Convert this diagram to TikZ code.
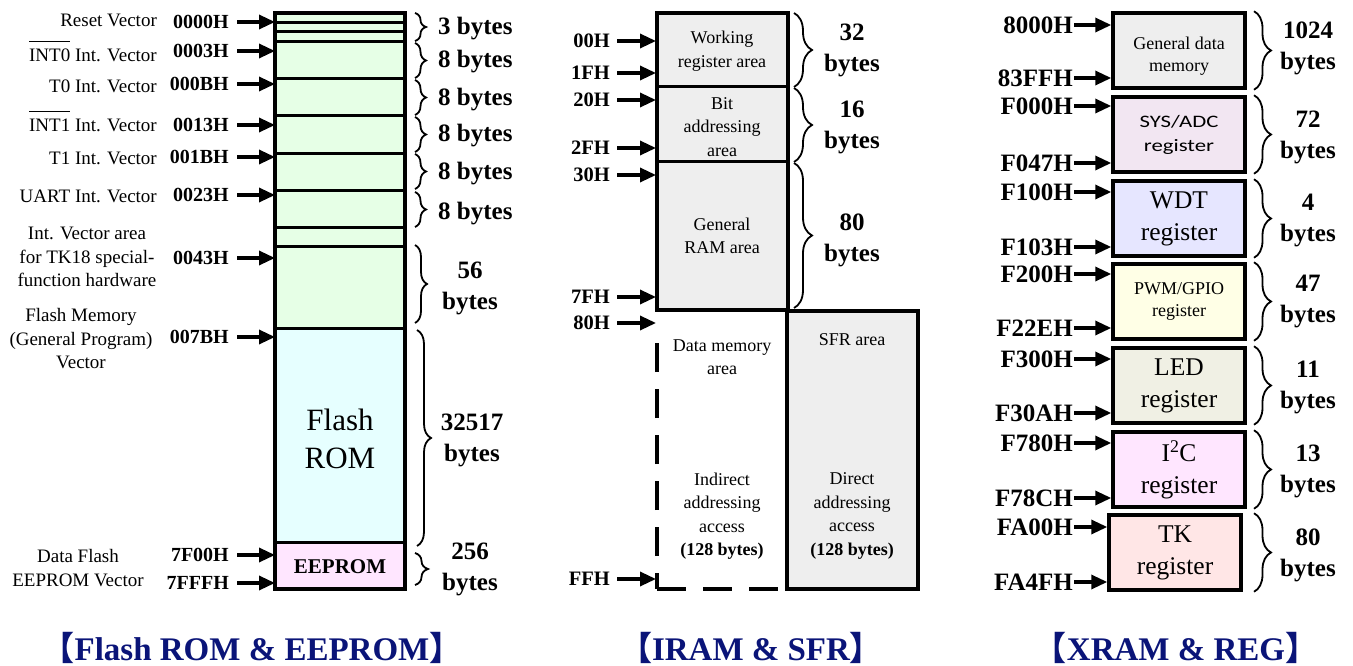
\documentclass[tikz,border=0pt]{standalone}
\usepackage{fontspec}
\setmainfont{Liberation Serif}
\newfontfamily\cjkfont{Noto Sans CJK SC}
\newfontfamily\sysfont{Carlito}[FakeStretch=1.3]
\usetikzlibrary{arrows.meta,decorations.pathreplacing}
\definecolor{fgreen}{RGB}{230,255,230}
\definecolor{fcyan}{RGB}{230,255,255}
\definecolor{fpink}{RGB}{255,230,255}
\definecolor{fgray}{RGB}{238,238,238}
\definecolor{fsys}{RGB}{242,230,242}
\definecolor{fwdt}{RGB}{230,230,255}
\definecolor{fpwm}{RGB}{255,255,230}
\definecolor{fled}{RGB}{240,240,228}
\definecolor{ftk}{RGB}{255,230,230}
\definecolor{titleblue}{RGB}{10,20,120}
\newcommand{\ovbar}[1]{\setbox0\hbox{#1}\rlap{\raisebox{1.0em}{\rule{\wd0}{1.3pt}}}\box0\relax}
\tikzset{
 vlab/.style={font=\fontsize{19}{23.5}\selectfont, inner sep=0pt, align=center},
 laddr/.style={font=\bfseries\fontsize{20}{24}\selectfont, inner sep=0pt, anchor=east},
 maddr/.style={font=\bfseries\fontsize{20.5}{24}\selectfont, inner sep=0pt, anchor=east},
 raddr/.style={font=\bfseries\fontsize{25}{30}\selectfont, inner sep=0pt, anchor=east},
 arr/.style={line width=3.3pt, -{Triangle[length=16pt,width=14pt]}},
 brc/.style={decorate, decoration={brace, amplitude=#1}, line width=1.8pt},
 bytes/.style={font=\bfseries\fontsize{25}{31}\selectfont, inner sep=0pt, align=center},
 mtxt/.style={font=\fontsize{18}{23.5}\selectfont, inner sep=0pt, align=center},
 rbox/.style={draw, line width=3.5pt, minimum width=132pt, minimum height=75pt, inner sep=0pt, align=center},
 rsmall/.style={font=\fontsize{18}{22}\selectfont},
 rlarge/.style={font=\fontsize{25.5}{32}\selectfont},
 ttl/.style={font=\bfseries\fontsize{33}{38}\selectfont, text=titleblue, inner sep=0pt},
}
\begin{document}
\begin{tikzpicture}[x=1pt,y=-1pt]
\useasboundingbox (0,0) rectangle (1353,666);
% ================= left: Flash ROM & EEPROM =================
\fill[fgreen] (275,13) rectangle (405,328);
\fill[fcyan] (275,328) rectangle (405,543);
\fill[fpink] (275,543) rectangle (405,589);
\foreach \yy in {22.7,31.7,41.7,78.3,116,153.3,191,227.3,246.7,328.3,542.7}
  \draw[line width=3pt] (275,\yy) -- (405,\yy);
\draw[line width=3.5pt] (275,13) rectangle (405,589);
\node[font=\fontsize{31}{38}\selectfont, align=center, inner sep=0pt] (flashrom) at (340,439) {Flash\\ROM};
\node[font=\bfseries\fontsize{21}{25}\selectfont, inner sep=0pt] (eeprom) at (340,567) {EEPROM};

\node[vlab, anchor=base east] (lreset) at (157,26.5) {Reset Vector};
\node[vlab, anchor=base east] (lint0) at (157,61.5) {\ovbar{INT0} Int. Vector};
\node[vlab, anchor=base east] (lt0) at (157,92.5) {T0 Int. Vector};
\node[vlab, anchor=base east] (lint1) at (157,131.5) {\ovbar{INT1} Int. Vector};
\node[vlab, anchor=base east] (lt1) at (157,164.5) {T1 Int. Vector};
\node[vlab, anchor=base east] (luart) at (157,202.5) {UART Int. Vector};
\node[vlab] (ltk) at (87,257) {Int. Vector area\\for TK18 special-\\function hardware};
\node[vlab] (lflash) at (81,339) {Flash Memory\\(General Program)\\Vector};
\node[vlab] (ldata) at (78,568) {Data Flash\\EEPROM Vector};

\coordinate (Lw) at (275,0);
\foreach \n/\t/\yy in {a0/0000H/22, a3/0003H/51, aB/000BH/84, a13/0013H/125, a1B/001BH/157, a23/0023H/195, a43/0043H/258, a7B/007BH/337, aF00/7F00H/555, aFFF/7FFFH/583}{
  \node[laddr] (\n) at (229,\yy) {\t};
  \draw[arr] ([xshift=8pt]\n.east) -- (\n.east -| Lw);
}

\draw[brc=11] (415,13) -- (415,41);
\draw[brc=11] (415,43) -- (415,78);
\draw[brc=11] (415,80) -- (415,115);
\draw[brc=11] (415,117) -- (415,152);
\draw[brc=11] (415,154) -- (415,189);
\draw[brc=11] (415,192) -- (415,227);
\draw[brc=12] (415,245) -- (415,323);
\draw[brc=14] (417,330) -- (417,546);
\draw[brc=13] (415,553) -- (415,585);
\node[bytes, anchor=west] (b3) at (438,29) {3 bytes};
\foreach \n/\yy in {b8a/62, b8b/100, b8c/136, b8d/174, b8e/214}
  \node[bytes, anchor=west] (\n) at (438,\yy) {8 bytes};
\node[bytes] (b56) at (470,288) {56\\bytes};
\node[bytes] (b32517) at (472,440) {32517\\bytes};
\node[bytes] (b256) at (470,569) {256\\bytes};

% ================= middle: IRAM & SFR =================
\fill[fgray] (657,13) rectangle (788,310);
\draw[line width=3pt] (657,87) -- (788,87);
\draw[line width=3pt] (657,162) -- (788,162);
\draw[line width=3.5pt] (657,13) rectangle (788,310);
\draw[line width=3.5pt, fill=fgray] (787,311) rectangle (918,589);
\draw[line width=3.5pt, dash pattern=on 29pt off 17pt, dash phase=13pt] (657,589) -- (657,331);
\draw[line width=3.5pt, dash pattern=on 29pt off 17pt] (657,589) -- (787,589);

\node[mtxt] (wr) at (722,51) {Working\\register area};
\node[mtxt] (bit) at (722,127) {Bit\\addressing\\area};
\node[mtxt] (gram) at (722,236) {General\\RAM area};
\node[mtxt] (dma) at (722,357) {Data memory\\area};
\node[mtxt] (ind) at (722,516) {Indirect\\addressing\\access\\\textbf{(128 bytes)}};
\node[mtxt] (sfr) at (852,340) {SFR area};
\node[mtxt] (dir) at (852,516) {Direct\\addressing\\access\\\textbf{(128 bytes)}};

\coordinate (Mw) at (656,0);
\foreach \n/\t/\yy in {m00/00H/41, m1F/1FH/73, m20/20H/100, m2F/2FH/148, m30/30H/175, m7F/7FH/297, m80/80H/323, mFF/FFH/579}{
  \node[maddr] (\n) at (610,\yy) {\t};
  \draw[arr] ([xshift=7pt]\n.east) -- (\n.east -| Mw);
}
\draw[brc=18] (794,13) -- (794,87);
\draw[brc=18] (794,88) -- (794,162);
\draw[brc=18] (794,163) -- (794,308);
\node[bytes] (m32) at (852,50) {32\\bytes};
\node[bytes] (m16) at (852,127) {16\\bytes};
\node[bytes] (m80b) at (852,240) {80\\bytes};

% ================= right: XRAM & REG =================
\node[rbox, fill=fgray] (gdm) at (1179,50.5) {};
\node[rsmall, inner sep=0pt, align=center] (gdmt) at (1179,56) {General data\\memory};
\node[rbox, fill=fsys, font=\sysfont\fontsize{17.5}{24}\selectfont] (sys) at (1179,134.5) {SYS/ADC\\register};
\node[rbox, fill=fwdt, rlarge] (wdt) at (1179,218.5) {WDT\\register};
\node[rbox, fill=fpwm, rsmall] (pwm) at (1179,301.5) {PWM/GPIO\\register};
\node[rbox, fill=fled, rlarge] (led) at (1179,385.5) {LED\\register};
\node[rbox, fill=fpink, rlarge] (i2c) at (1179,469.5) {I\textsuperscript{2}C\\register};
\node[rbox, fill=ftk, rlarge] (tk) at (1175,552.5) {TK\\register};

\foreach \n/\t/\yy/\b in {r1/8000H/25/gdm, r2/83FFH/78/gdm, r3/F000H/106/sys, r4/F047H/163/sys, r5/F100H/192/wdt, r6/F103H/247/wdt, r7/F200H/274/pwm, r8/F22EH/328/pwm, r9/F300H/359/led, r10/F30AH/413/led, r11/F780H/443/i2c, r12/F78CH/498/i2c, r13/FA00H/527/tk, r14/FA4FH/582/tk}{
  \node[raddr] (\n) at (1073,\yy) {\t};
  \draw[arr] ([xshift=1pt]\n.east) -- (\n.east -| \b.west);
}
\coordinate (BR) at (1254,0);
\foreach \b in {gdm,sys,wdt,pwm,led,i2c,tk}
  \draw[brc=17] (\b.north -| BR) -- (\b.south -| BR);
\node[bytes] (x1024) at (1308,48) {1024\\bytes};
\node[bytes] (x72) at (1308,137) {72\\bytes};
\node[bytes] (x4) at (1308,220) {4\\bytes};
\node[bytes] (x47) at (1308,301) {47\\bytes};
\node[bytes] (x11) at (1308,387) {11\\bytes};
\node[bytes] (x13) at (1308,471) {13\\bytes};
\node[bytes] (x80) at (1308,555) {80\\bytes};

% ================= titles =================
\node[ttl] (t1) at (252,648) {{\cjkfont 【}Flash ROM \& EEPROM{\cjkfont 】}};
\node[ttl] (t2) at (751,648) {{\cjkfont 【}IRAM \& SFR{\cjkfont 】}};
\node[ttl] (t3) at (1176,648) {{\cjkfont 【}XRAM \& REG{\cjkfont 】}};
\end{tikzpicture}
\end{document}
